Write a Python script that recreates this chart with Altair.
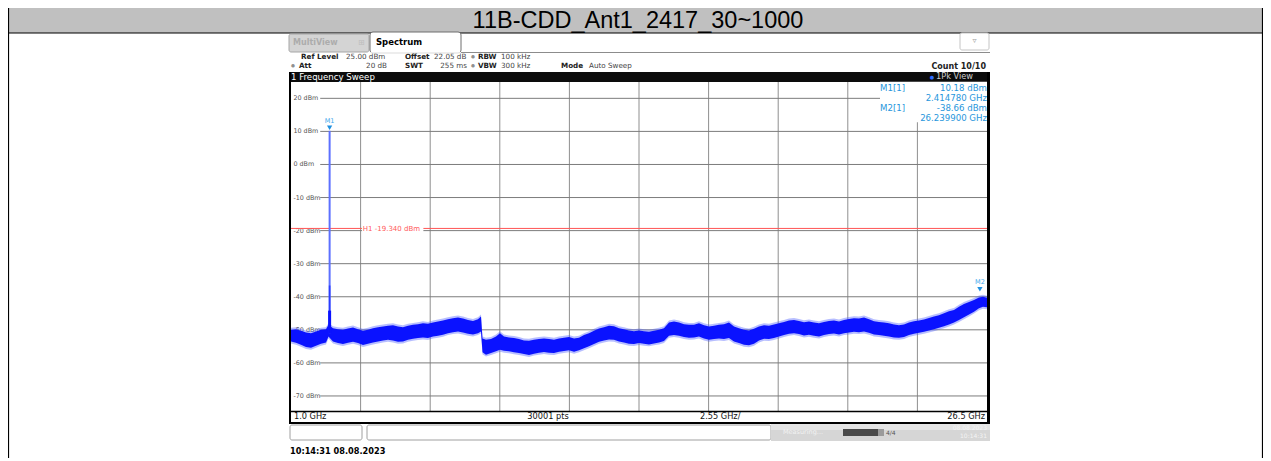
import altair as alt
import pandas as pd

# ---------------- data ----------------
TITLE = "11B-CDD_Ant1_2417_30~1000"

FREQ_GHZ = [1.000, 1.183, 1.366, 1.550, 1.733, 1.916, 2.099, 2.282, 2.374, 2.539,
            2.722, 2.905, 3.088, 3.272, 3.455, 3.638, 3.821, 4.004, 4.188, 4.371,
            4.554, 4.737, 4.920, 5.103, 5.287, 5.470, 5.653, 5.836, 6.019, 6.203,
            6.386, 6.569, 6.752, 6.935, 7.119, 7.302, 7.485, 7.668, 7.851, 7.961,
            8.016, 8.144, 8.328, 8.511, 8.657, 8.804, 8.987, 9.170, 9.353, 9.537,
            9.720, 9.903, 10.086, 10.269, 10.453, 10.636, 10.819, 11.002, 11.185, 11.369,
            11.552, 11.735, 11.918, 12.101, 12.285, 12.468, 12.651, 12.834, 13.017, 13.200,
            13.384, 13.567, 13.750, 13.933, 14.116, 14.300, 14.483, 14.666, 14.849, 15.032,
            15.216, 15.399, 15.582, 15.765, 15.948, 16.132, 16.315, 16.498, 16.681, 16.864,
            17.047, 17.231, 17.414, 17.597, 17.780, 17.963, 18.147, 18.330, 18.513, 18.696,
            18.879, 19.063, 19.246, 19.429, 19.612, 19.795, 19.978, 20.162, 20.345, 20.528,
            20.711, 20.894, 21.078, 21.261, 21.444, 21.627, 21.810, 21.994, 22.177, 22.360,
            22.543, 22.726, 22.909, 23.093, 23.276, 23.459, 23.642, 23.825, 24.009, 24.192,
            24.375, 24.558, 24.741, 24.925, 25.108, 25.291, 25.474, 25.657, 25.841, 26.024,
            26.207, 26.353, 26.500]

TRACE_MAX_DBM = [-50.0, -49.8, -50.3, -50.8, -51.0, -50.5, -50.0, -49.8, -48.5, -49.5,
                 -49.8, -50.0, -49.6, -49.3, -49.8, -50.3, -50.0, -49.5, -49.2, -49.0,
                 -48.8, -48.6, -49.0, -49.2, -48.8, -48.5, -48.3, -48.0, -48.2, -47.8,
                 -47.5, -47.2, -46.8, -46.5, -46.3, -46.6, -47.0, -47.3, -46.8, -46.0,
                 -52.6, -53.0, -52.8, -52.0, -51.0, -52.0, -52.3, -52.5, -52.8, -53.2,
                 -53.3, -53.0, -52.8, -52.6, -52.8, -53.0, -52.6, -52.4, -52.2, -52.6,
                 -52.4, -51.6, -51.0, -50.3, -49.6, -49.2, -48.8, -48.9, -49.5, -49.8,
                 -50.2, -50.4, -50.2, -50.4, -50.6, -50.3, -50.0, -49.5, -47.8, -47.5,
                 -47.8, -48.3, -48.5, -48.5, -48.0, -48.6, -49.0, -48.8, -48.5, -48.3,
                 -47.8, -49.0, -49.5, -50.0, -50.2, -49.7, -49.0, -48.6, -48.8, -48.4,
                 -48.0, -47.6, -47.2, -47.0, -47.3, -47.7, -47.5, -47.8, -48.0, -47.6,
                 -47.3, -47.2, -47.5, -47.0, -46.7, -46.5, -46.6, -46.3, -46.8, -47.4,
                 -47.6, -47.8, -48.0, -48.4, -48.6, -48.4, -47.8, -47.4, -47.2, -46.9,
                 -46.4, -46.0, -45.6, -45.0, -44.4, -44.0, -43.0, -42.2, -41.6, -41.0,
                 -40.2, -40.0, -40.3]

TRACE_MIN_DBM = [-53.5, -53.9, -54.5, -55.2, -55.4, -54.8, -54.2, -53.8, -52.0, -53.5,
                 -54.0, -54.3, -53.9, -53.6, -54.0, -54.6, -54.2, -53.8, -53.5, -53.2,
                 -53.0, -53.2, -53.6, -53.5, -53.0, -52.7, -52.5, -52.3, -52.5, -52.0,
                 -51.8, -51.5, -51.0, -50.7, -50.5, -50.8, -51.2, -51.4, -51.0, -50.5,
                 -56.8, -57.5, -57.0, -56.5, -56.0, -56.3, -56.5, -56.8, -57.0, -57.3,
                 -57.6, -57.2, -56.9, -56.7, -56.9, -57.0, -56.6, -56.4, -56.2, -56.6,
                 -56.2, -55.6, -55.0, -54.3, -53.6, -53.2, -52.9, -53.0, -53.5, -53.8,
                 -54.2, -54.3, -54.0, -54.2, -54.4, -54.1, -53.8, -53.4, -51.8, -51.6,
                 -51.8, -52.2, -52.4, -52.3, -52.0, -52.6, -53.0, -52.8, -52.6, -52.8,
                 -52.5, -53.5, -54.0, -54.5, -54.7, -54.2, -53.2, -52.7, -52.8, -52.5,
                 -52.0, -51.6, -51.2, -51.0, -51.3, -51.7, -51.5, -51.8, -52.0, -51.6,
                 -51.3, -51.1, -51.4, -51.0, -50.8, -50.6, -50.7, -50.5, -50.9, -51.4,
                 -51.6, -51.8, -52.0, -52.3, -52.4, -52.2, -51.6, -51.2, -50.9, -50.6,
                 -50.2, -49.8, -49.4, -48.9, -48.4, -47.8, -47.0, -46.2, -45.4, -44.5,
                 -43.5, -43.0, -43.2]

LEVEL_TICKS = [20, 10, 0, -10, -20, -30, -40, -50, -60, -70]
LEVEL_LABELS = ["20 dBm", "10 dBm", "0 dBm", "-10 dBm", "-20 dBm",
                "-30 dBm", "-40 dBm", "-50 dBm", "-60 dBm", "-70 dBm"]
FREQ_GRID_GHZ = [3.55, 6.10, 8.65, 11.20, 13.75, 16.30, 18.85, 21.40, 23.95]

START_GHZ, STOP_GHZ = 1.0, 26.5
REF_LEVEL, BOTTOM_LEVEL = 25.0, -75.0

MARKER_NAMES = ["M1", "M2"]
MARKER_FREQ_GHZ = [2.414780, 26.239900]
MARKER_LEVEL_DBM = [10.18, -38.66]

SPIKE_FREQ_GHZ = 2.414780
SPIKE_LEVELS = [10.18, -36.6, -44.2]   # peak, secondary, broad base top
SPIKE_BASE = -51.0

H1_LEVEL = -19.34

# ---------------- helpers ----------------
OFF = 8
ONE = alt.Data(values=[{"k": 0}])


def P(v):
    return v - OFF


def rect(x1, y1, x2, y2, fill="white", stroke=None, sw=1, cr=0, opacity=1):
    kw = dict(fill=fill, cornerRadius=cr, opacity=opacity)
    if stroke:
        kw.update(stroke=stroke, strokeWidth=sw)
    else:
        kw.update(strokeWidth=0)
    return alt.Chart(ONE).mark_rect(**kw).encode(
        x=alt.value(P(x1)), x2=alt.value(P(x2)), y=alt.value(P(y1)), y2=alt.value(P(y2)))


def hline(x1, x2, y, color, w=1):
    return alt.Chart(ONE).mark_rule(color=color, strokeWidth=w).encode(
        x=alt.value(P(x1)), x2=alt.value(P(x2)), y=alt.value(P(y)))


def vline(x, y1, y2, color, w=1):
    return alt.Chart(ONE).mark_rule(color=color, strokeWidth=w).encode(
        x=alt.value(P(x)), y=alt.value(P(y1)), y2=alt.value(P(y2)))


def txt(x, y, s, size=8, color="black", weight="normal", align="left", font="DejaVu Sans"):
    return alt.Chart(ONE).mark_text(
        text=s, fontSize=size, color=color, fontWeight=weight, align=align,
        baseline="middle", font=font).encode(x=alt.value(P(x)), y=alt.value(P(y)))


xs = alt.Scale(domain=[START_GHZ, STOP_GHZ], range=[P(291), P(987)], nice=False, zero=False)
ys = alt.Scale(domain=[BOTTOM_LEVEL, REF_LEVEL], range=[P(412.5), P(81.8)], nice=False, zero=False)


def X(field):
    return alt.X(f"{field}:Q", scale=xs, axis=None)


def Y(field):
    return alt.Y(f"{field}:Q", scale=ys, axis=None)


layers = []

# ---- table title bar ----
layers += [
    rect(8, 8, 1263, 33, fill="#c0c0c0"),
    hline(8, 1263, 33, "black", 1.2),
    vline(8.5, 8, 460, "black", 1.2),
    vline(1262.5, 8, 460, "black", 1.2),
    txt(638, 20.5, TITLE, 23.5, "black", align="center", font="Liberation Sans"),
]

# ---- analyzer tabs ----
layers += [
    hline(461, 990, 52.5, "#8c8c8c"),
    rect(289, 34, 369, 52, fill="#d4d4d4", stroke="#a6a6a6", cr=2),
    txt(293, 43, "MultiView", 8, "#acacac", "bold"),
    txt(358, 43, "\u229e", 8, "#bdbdbd"),
    rect(370, 32, 461, 53, fill="white", stroke="#6e6e6e", cr=3),
    hline(371, 460, 53, "white", 1.5),
    txt(376, 42, "Spectrum", 8.5, "black", "bold"),
    rect(960, 33, 989, 50, fill="white", stroke="#c4c4c4", cr=2),
    txt(974.5, 41, "\u25bf", 8, "#a0a0a0", align="center"),
]

# ---- setting lines ----
fs = 7.2
layers += [
    txt(301, 57, "Ref Level", fs, "#222", "bold"),
    txt(346, 57, "25.00 dBm", fs, "#444"),
    txt(405, 57, "Offset", fs, "#222", "bold"),
    txt(434, 57, "22.05 dB", fs, "#444"),
    txt(473, 57, "\u25cf", 4.5, "#909090", align="center"),
    txt(478, 57, "RBW", fs, "#222", "bold"),
    txt(501, 57, "100 kHz", fs, "#444"),
    txt(293, 66, "\u25cf", 4.5, "#909090", align="center"),
    txt(299, 66, "Att", fs, "#222", "bold"),
    txt(387, 66, "20 dB", fs, "#444", align="right"),
    txt(405, 66, "SWT", fs, "#222", "bold"),
    txt(467, 66, "255 ms", fs, "#444", align="right"),
    txt(473, 66, "\u25cf", 4.5, "#909090", align="center"),
    txt(478, 66, "VBW", fs, "#222", "bold"),
    txt(501, 66, "300 kHz", fs, "#444"),
    txt(561, 66, "Mode", fs, "#222", "bold"),
    txt(589, 66, "Auto Sweep", fs, "#444"),
    txt(986, 67, "Count 10/10", 8, "#222", "bold", align="right"),
]

# ---- black sweep bar ----
layers += [
    rect(289, 72, 990, 82, fill="#0c0c0c"),
    txt(291, 77.3, "1 Frequency Sweep", 8.6, "white"),
    txt(932, 77.3, "\u25cf", 5, "#2f6dff", align="center"),
    txt(936, 77.3, "1Pk View", 8.2, "#d0d0d0"),
]

# ---- grid ----
df_vgrid = pd.DataFrame({"f": FREQ_GRID_GHZ})
layers.append(alt.Chart(df_vgrid).mark_rule(color="#8f8f8f", strokeWidth=1).encode(
    x=X("f"), y=alt.value(P(82)), y2=alt.value(P(411))))

df_h = pd.DataFrame({"lvl": LEVEL_TICKS, "label": LEVEL_LABELS,
                     "f0": [2.07] * len(LEVEL_TICKS), "f1": [STOP_GHZ] * len(LEVEL_TICKS),
                     "ft": [1.09] * len(LEVEL_TICKS)})
layers.append(alt.Chart(df_h).mark_rule(color="#7c7c7c", strokeWidth=1).encode(
    y=Y("lvl"), x=X("f0"), x2="f1:Q"))
layers.append(alt.Chart(df_h).mark_text(
    align="left", baseline="middle", fontSize=6.4, color="#555555", font="DejaVu Sans").encode(
    x=X("ft"), y=Y("lvl"), text="label:N"))

# marker-table backdrop
df_box = pd.DataFrame({"f0": [22.58], "f1": [STOP_GHZ], "l0": [REF_LEVEL], "l1": [12.8]})
layers.append(alt.Chart(df_box).mark_rect(fill="white", strokeWidth=0).encode(
    x=X("f0"), x2="f1:Q", y=Y("l0"), y2="l1:Q"))

# ---- H1 line ----
df_h1 = pd.DataFrame({"lvl": [H1_LEVEL], "f0": [START_GHZ], "f1": [STOP_GHZ],
                      "b0": [3.60], "b1": [5.85], "t0": [-17.6], "t1": [-21.6],
                      "ft": [3.63], "lt": [-19.6],
                      "label": [f"H1  {H1_LEVEL:.3f} dBm"]})
layers.append(alt.Chart(df_h1).mark_rule(color="#ff5555", strokeWidth=1).encode(
    y=Y("lvl"), x=X("f0"), x2="f1:Q"))
layers.append(alt.Chart(df_h1).mark_rect(fill="white", strokeWidth=0).encode(
    x=X("b0"), x2="b1:Q", y=Y("t0"), y2="t1:Q"))
layers.append(alt.Chart(df_h1).mark_text(
    align="left", baseline="middle", fontSize=7, color="#ff5a5a", font="DejaVu Sans").encode(
    x=X("ft"), y=Y("lt"), text="label:N"))

# ---- trace ----
df_tr = pd.DataFrame({"f": FREQ_GHZ, "hi": TRACE_MAX_DBM, "lo": TRACE_MIN_DBM})
layers.append(alt.Chart(df_tr).transform_calculate(
    hi2="datum.hi + 0.6", lo2="datum.lo - 0.6").mark_area(color="#4a5cff", opacity=0.4).encode(
    x=X("f"), y=Y("hi2"), y2="lo2:Q"))
layers.append(alt.Chart(df_tr).mark_area(color="#0a12ff").encode(
    x=X("f"), y=Y("hi"), y2="lo:Q"))

# spike at carrier
spike_styles = [("#5c70ff", 2.0), ("#2a3cff", 1.6), ("#0a12ff", 3.0)]
for lvl, (col, w) in zip(SPIKE_LEVELS, spike_styles):
    df_s = pd.DataFrame({"f": [SPIKE_FREQ_GHZ], "top": [lvl], "base": [SPIKE_BASE]})
    layers.append(alt.Chart(df_s).mark_rule(color=col, strokeWidth=w).encode(
        x=X("f"), y=Y("top"), y2="base:Q"))

# ---- markers ----
df_m = pd.DataFrame({"name": MARKER_NAMES, "f": MARKER_FREQ_GHZ, "lvl": MARKER_LEVEL_DBM})
layers.append(alt.Chart(df_m).mark_point(
    shape="triangle-down", filled=True, color="#1e90e0", size=28, opacity=1, yOffset=-3).encode(
    x=X("f"), y=Y("lvl")))
layers.append(alt.Chart(df_m).mark_text(
    fontSize=6.5, color="#40a8ec", dy=-10, font="DejaVu Sans").encode(
    x=X("f"), y=Y("lvl"), text="name:N"))

# marker table
mcol = "#2796dc"
for i, (nm, f, lvl) in enumerate(zip(MARKER_NAMES, MARKER_FREQ_GHZ, MARKER_LEVEL_DBM)):
    y0 = 88 + 20 * i
    layers += [
        txt(880, y0, f"{nm}[1]", 8.6, mcol),
        txt(987, y0, f"{lvl:.2f} dBm", 8.6, mcol, align="right"),
        txt(987, y0 + 10, f"{f:.6f} GHz", 8.6, mcol, align="right"),
    ]

# ---- plot frame + bottom bar ----
layers += [
    vline(290, 72, 424, "black", 2),
    vline(988.5, 72, 424, "black", 3),
    hline(289, 990, 411.5, "black", 1.3),
    hline(289, 990, 423, "black", 2),
    txt(294, 417, "1.0 GHz", 8.2, "#111"),
    txt(548, 417, "30001 pts", 8.2, "#111", align="center"),
    txt(700, 417, "2.55 GHz/", 8.2, "#111"),
    txt(985, 417, "26.5 GHz", 8.2, "#111", align="right"),
]

# ---- status bar ----
layers += [
    rect(290, 425, 362, 440, fill="white", stroke="#a0a0a0", cr=2),
    rect(367, 425, 771, 440, fill="white", stroke="#a0a0a0", cr=2),
    rect(771, 424, 990, 441, fill="#d6d6d6"),
    rect(771, 424, 990, 430, fill="#e4e4e4"),
    txt(783, 432, "Measuring...", 6.5, "#f2f2f2"),
    rect(843, 429, 878, 436, fill="#4a4a4a"),
    rect(878, 429, 884, 436, fill="#9a9a9a"),
    txt(886, 432.5, "4/4", 6, "#555555"),
    txt(987, 428, "08.08.2023", 6, "#f4f4f4", align="right"),
    txt(987, 436, "10:14:31", 6, "#f4f4f4", align="right"),
    txt(290, 452, "10:14:31  08.08.2023", 8.2, "black", "bold"),
]

chart = alt.layer(*layers).properties(
    width=1255, height=450, padding=0,
    autosize=alt.AutoSizeParams(type="none"),
    background="white",
).configure_view(strokeWidth=0)

chart.save("out.html", embed_options={"renderer": "svg", "actions": False})
